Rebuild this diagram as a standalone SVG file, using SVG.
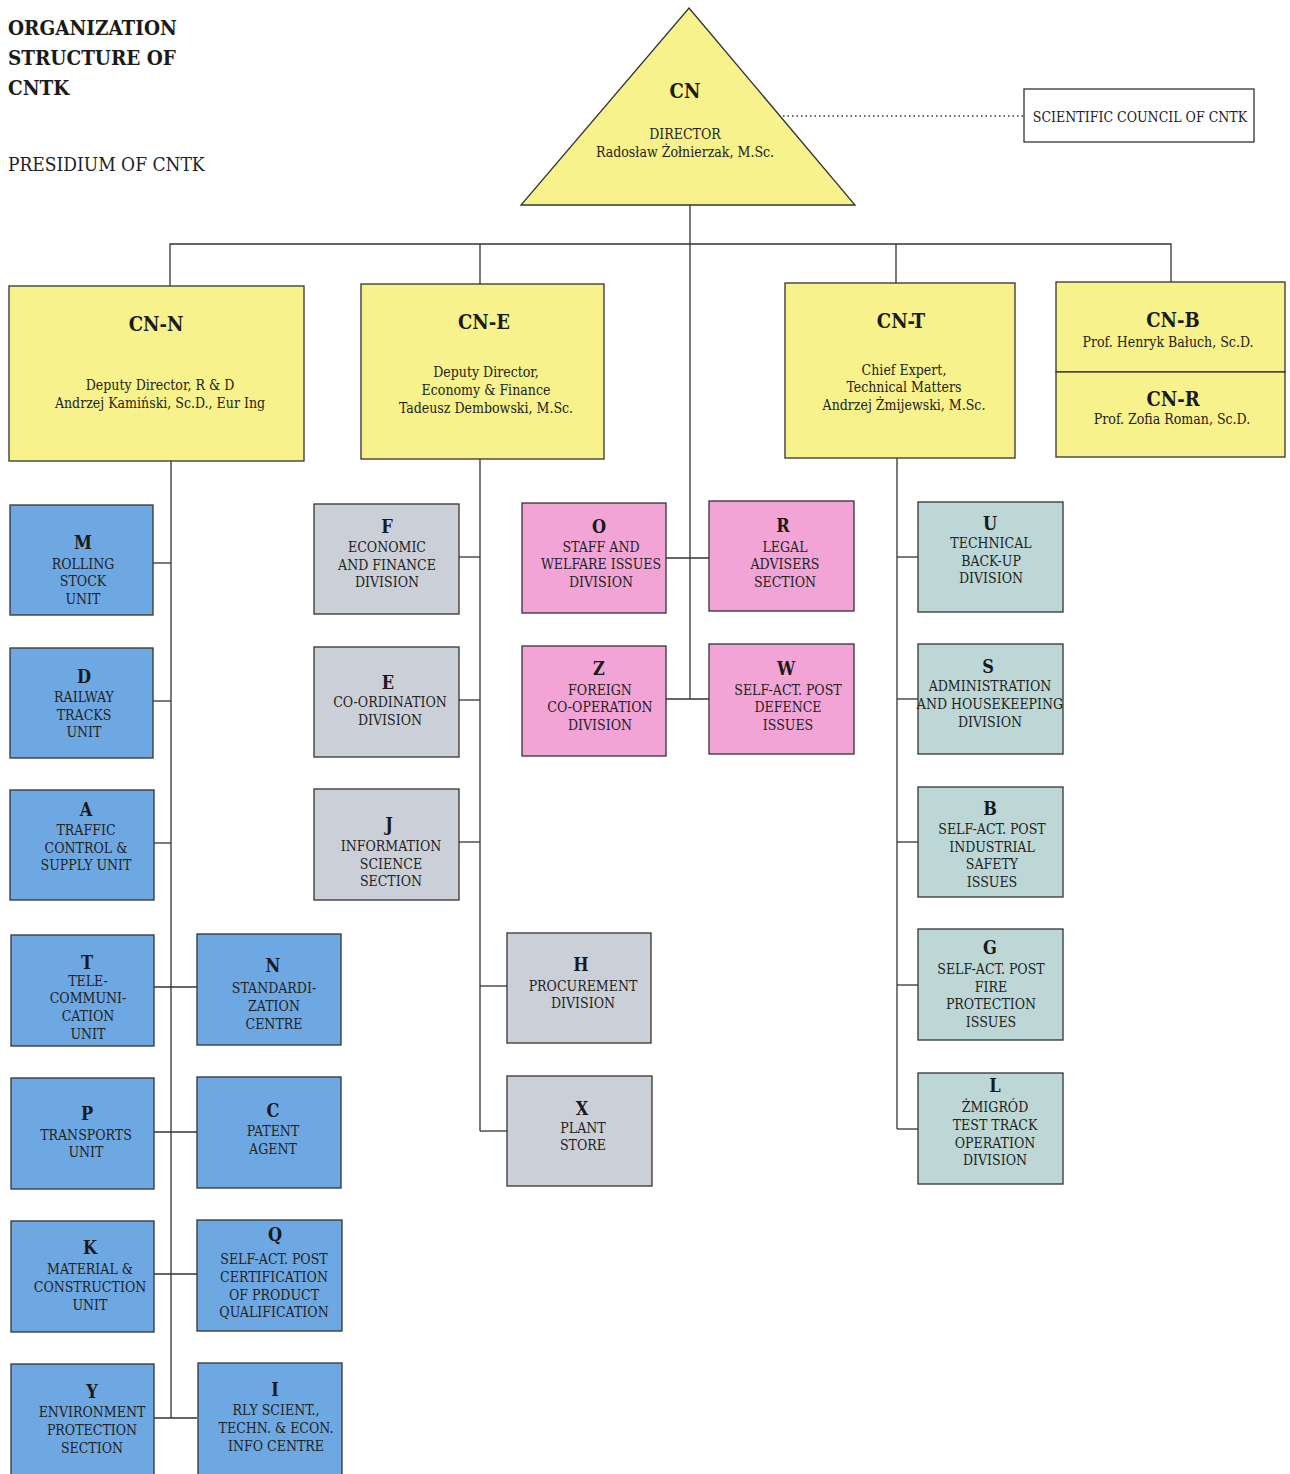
<svg xmlns="http://www.w3.org/2000/svg" width="1290" height="1474" viewBox="0 0 1290 1474">
<style>
text{font-family:"DejaVu Serif Condensed","DejaVu Serif","Liberation Serif",serif;fill:#222;text-anchor:middle}
.title{font-weight:bold;font-size:20.5px;text-anchor:start;fill:#1a1a1a}
.pres{font-size:19px;text-anchor:start;font-weight:200}
.hd{font-weight:bold;font-size:20px;fill:#1a1a1a}
.sub{font-size:14px}
.let{font-weight:bold;font-size:18px;fill:#1a1a1a}
.t{font-size:14px}
.box{stroke:#333;stroke-width:1.3}
.yel{fill:#f8f28c}
.blue{fill:#6ea8e2}
.grey{fill:#cbd0d8}
.pink{fill:#f2a4d6}
.green{fill:#bcd7d6}
.ln{stroke:#333;stroke-width:1.3;fill:none}
</style>
<rect width="1290" height="1474" fill="#fff"/>
<g id="title">
<text class="title" x="8" y="35">ORGANIZATION</text>
<text class="title" x="8" y="65">STRUCTURE OF</text>
<text class="title" x="8" y="95">CNTK</text>
<text class="pres" x="8" y="171">PRESIDIUM OF CNTK</text>
</g>
<g id="connectors">
<line class="ln" x1="783" y1="116" x2="1023" y2="116" stroke-dasharray="1.5 3"/>
<line class="ln" x1="690" y1="205" x2="690" y2="699"/>
<polyline class="ln" points="170,286 170,244 1171,244 1171,282"/>
<line class="ln" x1="480" y1="244" x2="480" y2="284"/>
<line class="ln" x1="896" y1="244" x2="896" y2="283"/>
<line class="ln" x1="171" y1="461" x2="171" y2="1418"/>
<line class="ln" x1="153" y1="563" x2="171" y2="563"/>
<line class="ln" x1="153" y1="701" x2="171" y2="701"/>
<line class="ln" x1="153" y1="843" x2="171" y2="843"/>
<line class="ln" x1="154" y1="987" x2="197" y2="987"/>
<line class="ln" x1="154" y1="1132" x2="197" y2="1132"/>
<line class="ln" x1="154" y1="1274" x2="197" y2="1274"/>
<line class="ln" x1="154" y1="1418" x2="197" y2="1418"/>
<line class="ln" x1="480" y1="459" x2="480" y2="1131"/>
<line class="ln" x1="459" y1="557" x2="480" y2="557"/>
<line class="ln" x1="459" y1="700" x2="480" y2="700"/>
<line class="ln" x1="459" y1="842" x2="480" y2="842"/>
<line class="ln" x1="480" y1="986" x2="507" y2="986"/>
<line class="ln" x1="480" y1="1131" x2="507" y2="1131"/>
<line class="ln" x1="666" y1="558" x2="709" y2="558"/>
<line class="ln" x1="666" y1="699" x2="709" y2="699"/>
<line class="ln" x1="897" y1="458" x2="897" y2="1129"/>
<line class="ln" x1="897" y1="557" x2="918" y2="557"/>
<line class="ln" x1="897" y1="699" x2="918" y2="699"/>
<line class="ln" x1="897" y1="842" x2="918" y2="842"/>
<line class="ln" x1="897" y1="985" x2="918" y2="985"/>
<line class="ln" x1="897" y1="1129" x2="918" y2="1129"/>
</g>
<g id="CN">
<polygon class="box yel" points="689,8 855,205 521,205"/>
<text class="hd" x="685" y="98">CN</text>
<text class="sub" x="685" y="139">DIRECTOR</text>
<text class="sub" x="685" y="157">Radosław Żołnierzak, M.Sc.</text>
</g>
<g id="council">
<rect class="box" fill="#fff" x="1024" y="89" width="230" height="53"/>
<text class="sub" x="1140" y="122">SCIENTIFIC COUNCIL OF CNTK</text>
</g>
<g id="CN-N">
<rect class="box yel" x="9" y="286" width="295" height="175"/>
<text class="hd" x="156" y="331">CN-N</text>
<text class="sub" x="160" y="390">Deputy Director, R &amp; D</text>
<text class="sub" x="160" y="408">Andrzej Kamiński, Sc.D., Eur Ing</text>
</g>
<g id="CN-E">
<rect class="box yel" x="361" y="284" width="243" height="175"/>
<text class="hd" x="484" y="329">CN-E</text>
<text class="sub" x="486" y="377">Deputy Director,</text>
<text class="sub" x="486" y="395">Economy &amp; Finance</text>
<text class="sub" x="486" y="413">Tadeusz Dembowski, M.Sc.</text>
</g>
<g id="CN-T">
<rect class="box yel" x="785" y="283" width="230" height="175"/>
<text class="hd" x="901" y="328">CN-T</text>
<text class="sub" x="904" y="375">Chief Expert,</text>
<text class="sub" x="904" y="392">Technical Matters</text>
<text class="sub" x="904" y="410">Andrzej Żmijewski, M.Sc.</text>
</g>
<g id="CN-B">
<rect class="box yel" x="1056" y="282" width="229" height="90"/>
<text class="hd" x="1173" y="327">CN-B</text>
<text class="sub" x="1168" y="347">Prof. Henryk Bałuch, Sc.D.</text>
</g>
<g id="CN-R">
<rect class="box yel" x="1056" y="372" width="229" height="85"/>
<text class="hd" x="1173" y="406">CN-R</text>
<text class="sub" x="1172" y="424">Prof. Zofia Roman, Sc.D.</text>
</g>
<g id="M">
<rect class="box blue" x="10" y="505" width="143" height="110"/>
<text class="let" x="83" y="549">M</text>
<text class="t" x="83" y="569">ROLLING</text><text class="t" x="83" y="586">STOCK</text><text class="t" x="83" y="604">UNIT</text>
</g>
<g id="D">
<rect class="box blue" x="10" y="648" width="143" height="110"/>
<text class="let" x="84" y="683">D</text>
<text class="t" x="84" y="702">RAILWAY</text><text class="t" x="84" y="720">TRACKS</text><text class="t" x="84" y="737">UNIT</text>
</g>
<g id="A">
<rect class="box blue" x="10" y="790" width="144" height="110"/>
<text class="let" x="86" y="816">A</text>
<text class="t" x="86" y="835">TRAFFIC</text><text class="t" x="86" y="853">CONTROL &amp;</text><text class="t" x="86" y="870">SUPPLY UNIT</text>
</g>
<g id="T">
<rect class="box blue" x="11" y="935" width="143" height="111"/>
<text class="let" x="87" y="969">T</text>
<text class="t" x="88" y="986">TELE-</text><text class="t" x="88" y="1003">COMMUNI-</text><text class="t" x="88" y="1021">CATION</text><text class="t" x="88" y="1039">UNIT</text>
</g>
<g id="N">
<rect class="box blue" x="197" y="934" width="144" height="111"/>
<text class="let" x="273" y="972">N</text>
<text class="t" x="274" y="993">STANDARDI-</text><text class="t" x="274" y="1011">ZATION</text><text class="t" x="274" y="1029">CENTRE</text>
</g>
<g id="P">
<rect class="box blue" x="11" y="1078" width="143" height="111"/>
<text class="let" x="87" y="1120">P</text>
<text class="t" x="86" y="1140">TRANSPORTS</text><text class="t" x="86" y="1157">UNIT</text>
</g>
<g id="C">
<rect class="box blue" x="197" y="1077" width="144" height="111"/>
<text class="let" x="273" y="1117">C</text>
<text class="t" x="273" y="1136">PATENT</text><text class="t" x="273" y="1154">AGENT</text>
</g>
<g id="K">
<rect class="box blue" x="11" y="1221" width="143" height="111"/>
<text class="let" x="90" y="1254">K</text>
<text class="t" x="90" y="1274">MATERIAL &amp;</text><text class="t" x="90" y="1292">CONSTRUCTION</text><text class="t" x="90" y="1310">UNIT</text>
</g>
<g id="Q">
<rect class="box blue" x="197" y="1220" width="145" height="111"/>
<text class="let" x="275" y="1241">Q</text>
<text class="t" x="274" y="1264">SELF-ACT. POST</text><text class="t" x="274" y="1282">CERTIFICATION</text><text class="t" x="274" y="1300">OF PRODUCT</text><text class="t" x="274" y="1317">QUALIFICATION</text>
</g>
<g id="Y">
<rect class="box blue" x="11" y="1364" width="143" height="115"/>
<text class="let" x="92" y="1398">Y</text>
<text class="t" x="92" y="1417">ENVIRONMENT</text><text class="t" x="92" y="1435">PROTECTION</text><text class="t" x="92" y="1453">SECTION</text>
</g>
<g id="I">
<rect class="box blue" x="198" y="1363" width="144" height="116"/>
<text class="let" x="275" y="1396">I</text>
<text class="t" x="276" y="1415">RLY SCIENT.,</text><text class="t" x="276" y="1433">TECHN. &amp; ECON.</text><text class="t" x="276" y="1451">INFO CENTRE</text>
</g>
<g id="F">
<rect class="box grey" x="314" y="504" width="145" height="110"/>
<text class="let" x="387" y="533">F</text>
<text class="t" x="387" y="552">ECONOMIC</text><text class="t" x="387" y="570">AND FINANCE</text><text class="t" x="387" y="587">DIVISION</text>
</g>
<g id="E">
<rect class="box grey" x="314" y="647" width="145" height="110"/>
<text class="let" x="388" y="689">E</text>
<text class="t" x="390" y="707">CO-ORDINATION</text><text class="t" x="390" y="725">DIVISION</text>
</g>
<g id="J">
<rect class="box grey" x="314" y="789" width="145" height="111"/>
<text class="let" x="389" y="831">J</text>
<text class="t" x="391" y="851">INFORMATION</text><text class="t" x="391" y="869">SCIENCE</text><text class="t" x="391" y="886">SECTION</text>
</g>
<g id="H">
<rect class="box grey" x="507" y="933" width="144" height="110"/>
<text class="let" x="581" y="971">H</text>
<text class="t" x="583" y="991">PROCUREMENT</text><text class="t" x="583" y="1008">DIVISION</text>
</g>
<g id="X">
<rect class="box grey" x="507" y="1076" width="145" height="110"/>
<text class="let" x="582" y="1115">X</text>
<text class="t" x="583" y="1133">PLANT</text><text class="t" x="583" y="1150">STORE</text>
</g>
<g id="O">
<rect class="box pink" x="522" y="503" width="144" height="110"/>
<text class="let" x="599" y="533">O</text>
<text class="t" x="601" y="552">STAFF AND</text><text class="t" x="601" y="569">WELFARE ISSUES</text><text class="t" x="601" y="587">DIVISION</text>
</g>
<g id="R">
<rect class="box pink" x="709" y="501" width="145" height="110"/>
<text class="let" x="783" y="532">R</text>
<text class="t" x="785" y="552">LEGAL</text><text class="t" x="785" y="569">ADVISERS</text><text class="t" x="785" y="587">SECTION</text>
</g>
<g id="Z">
<rect class="box pink" x="522" y="646" width="144" height="110"/>
<text class="let" x="599" y="675">Z</text>
<text class="t" x="600" y="695">FOREIGN</text><text class="t" x="600" y="712">CO-OPERATION</text><text class="t" x="600" y="730">DIVISION</text>
</g>
<g id="W">
<rect class="box pink" x="709" y="644" width="145" height="110"/>
<text class="let" x="786" y="675">W</text>
<text class="t" x="788" y="695">SELF-ACT. POST</text><text class="t" x="788" y="712">DEFENCE</text><text class="t" x="788" y="730">ISSUES</text>
</g>
<g id="U">
<rect class="box green" x="918" y="502" width="145" height="110"/>
<text class="let" x="990" y="530">U</text>
<text class="t" x="991" y="548">TECHNICAL</text><text class="t" x="991" y="566">BACK-UP</text><text class="t" x="991" y="583">DIVISION</text>
</g>
<g id="S">
<rect class="box green" x="918" y="644" width="145" height="110"/>
<text class="let" x="988" y="673">S</text>
<text class="t" x="990" y="691">ADMINISTRATION</text><text class="t" x="990" y="709">AND HOUSEKEEPING</text><text class="t" x="990" y="727">DIVISION</text>
</g>
<g id="B">
<rect class="box green" x="918" y="787" width="145" height="110"/>
<text class="let" x="990" y="815">B</text>
<text class="t" x="992" y="834">SELF-ACT. POST</text><text class="t" x="992" y="852">INDUSTRIAL</text><text class="t" x="992" y="869">SAFETY</text><text class="t" x="992" y="887">ISSUES</text>
</g>
<g id="G">
<rect class="box green" x="918" y="929" width="145" height="111"/>
<text class="let" x="990" y="954">G</text>
<text class="t" x="991" y="974">SELF-ACT. POST</text><text class="t" x="991" y="992">FIRE</text><text class="t" x="991" y="1009">PROTECTION</text><text class="t" x="991" y="1027">ISSUES</text>
</g>
<g id="L">
<rect class="box green" x="918" y="1073" width="145" height="111"/>
<text class="let" x="995" y="1092">L</text>
<text class="t" x="995" y="1112">ŻMIGRÓD</text><text class="t" x="995" y="1130">TEST TRACK</text><text class="t" x="995" y="1148">OPERATION</text><text class="t" x="995" y="1165">DIVISION</text>
</g>
</svg>
